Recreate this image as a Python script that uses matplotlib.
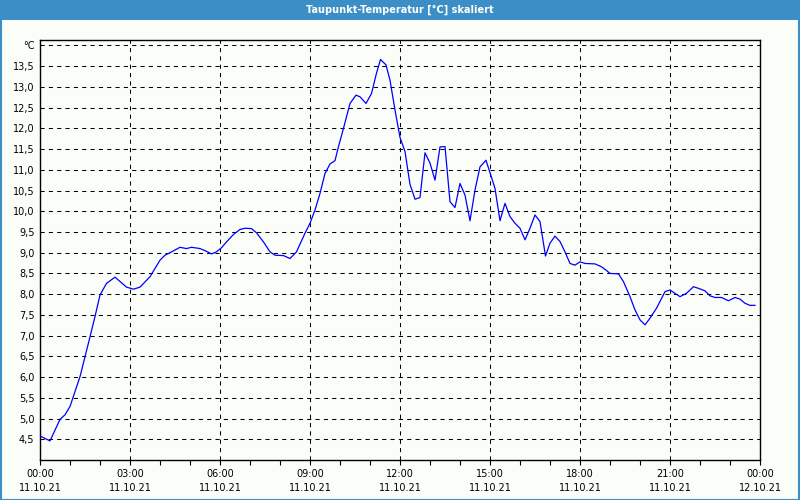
import numpy as np
import pandas as pd
import matplotlib
matplotlib.use("Agg")
import matplotlib.pyplot as plt
import matplotlib.dates as mdates
from matplotlib.patches import Rectangle
from matplotlib.ticker import FixedLocator, FuncFormatter

# --- data (minutes after 11.10.21 00:00, dew point in degC)
minutes = [0, 20, 40, 50, 60, 80, 100, 110, 120, 133, 150, 173, 187, 200, 220,
           240, 250, 260, 280, 293, 303, 320, 330, 343, 353, 363, 373, 387, 400,
           410, 423, 433, 447, 460, 470, 487, 500, 513, 530, 540, 550, 560, 570,
           580, 590, 597, 607, 620, 632, 640, 652, 663, 673, 681, 692, 700, 710,
           720, 730, 740, 750, 760, 770, 780, 790, 800, 810, 820, 830, 840, 850,
           860, 870, 880, 892, 900, 910, 920, 930, 940, 950, 960, 970, 980, 990,
           1000, 1011, 1020, 1030, 1040, 1050, 1060, 1070, 1080, 1090, 1110, 1123,
           1133, 1140, 1157, 1167, 1180, 1190, 1200, 1210, 1220, 1233, 1250, 1260,
           1270, 1280, 1293, 1307, 1317, 1330, 1340, 1350, 1363, 1377, 1390, 1400,
           1410, 1420, 1430]
dewpoint = [4.58, 4.46, 4.98, 5.09, 5.29, 6.01, 6.97, 7.46, 7.98, 8.26, 8.41, 8.17,
            8.12, 8.17, 8.42, 8.82, 8.94, 9.00, 9.13, 9.10, 9.13, 9.10, 9.05, 8.97,
            9.02, 9.12, 9.26, 9.44, 9.56, 9.59, 9.58, 9.48, 9.26, 9.02, 8.94, 8.93,
            8.86, 9.02, 9.47, 9.71, 10.03, 10.43, 10.91, 11.14, 11.22, 11.56, 12.00,
            12.60, 12.80, 12.76, 12.60, 12.84, 13.33, 13.66, 13.53, 13.16, 12.44,
            11.78, 11.44, 10.65, 10.29, 10.33, 11.41, 11.16, 10.75, 11.55, 11.56,
            10.23, 10.09, 10.67, 10.39, 9.77, 10.51, 11.07, 11.23, 10.93, 10.55,
            9.77, 10.19, 9.87, 9.71, 9.59, 9.31, 9.59, 9.91, 9.75, 8.92, 9.23, 9.40,
            9.27, 9.02, 8.74, 8.70, 8.78, 8.74, 8.73, 8.66, 8.57, 8.50, 8.49, 8.30,
            7.94, 7.62, 7.38, 7.26, 7.42, 7.66, 8.06, 8.10, 8.02, 7.94, 8.02, 8.18,
            8.14, 8.08, 7.96, 7.92, 7.92, 7.84, 7.92, 7.88, 7.78, 7.73, 7.73]
y_ticks = [4.5, 5.0, 5.5, 6.0, 6.5, 7.0, 7.5, 8.0, 8.5, 9.0, 9.5, 10.0,
           10.5, 11.0, 11.5, 12.0, 12.5, 13.0, 13.5, 14.0]
title = "Taupunkt-Temperatur [°C] skaliert"
unit = "°C"

start = pd.Timestamp("2021-10-11 00:00")
times = start + pd.to_timedelta(minutes, unit="m")

bar_blue = "#3c8fc6"
bg = "#fbfdf9"

fig = plt.figure(figsize=(8, 5), dpi=100, facecolor=bg)

# title bar + frame
fig.patches.append(Rectangle((0, 0.96), 1, 0.04, transform=fig.transFigure,
                             facecolor=bar_blue, edgecolor="none", zorder=0))
fig.patches.append(Rectangle((0.0008, 0.001), 0.9984, 0.998, transform=fig.transFigure,
                             facecolor="none", edgecolor=bar_blue, lw=1.5, zorder=1))
fig.text(0.5, 0.981, title, color="white", ha="center", va="center",
         fontsize=7, fontweight="bold", family="DejaVu Sans")

ax = fig.add_axes([0.05, 0.08, 0.90, 0.84])
ax.set_facecolor(bg)
ax.plot(times, dewpoint, color="#0000ff", lw=0.9, zorder=3)

ax.set_xlim(start, start + pd.Timedelta(hours=24))
ax.set_ylim(4.0, 14.13)

ax.xaxis.set_major_locator(mdates.HourLocator(byhour=range(0, 24, 3)))
ax.xaxis.set_minor_locator(mdates.HourLocator())
ax.xaxis.set_major_formatter(mdates.DateFormatter("%H:%M\n%d.%m.%y"))
ax.tick_params(axis="x", which="both", direction="out", length=3.5, width=0.8,
               labelsize=7, pad=3, colors="black")
plt.setp(ax.get_xticklabels(), linespacing=1.5)

ax.yaxis.set_major_locator(FixedLocator(y_ticks))
ax.yaxis.set_major_formatter(FuncFormatter(
    lambda v, p: unit if abs(v - 14.0) < 1e-6 else f"{v:.1f}".replace(".", ",")))
ax.tick_params(axis="y", length=0, labelsize=7, pad=4)

ax.grid(True, which="major", color="black", lw=0.75, linestyle=(0, (4, 4)))

for s in ax.spines.values():
    s.set_color("black")
    s.set_linewidth(1.0)

fig.savefig("out.png", dpi=100, facecolor=bg)
